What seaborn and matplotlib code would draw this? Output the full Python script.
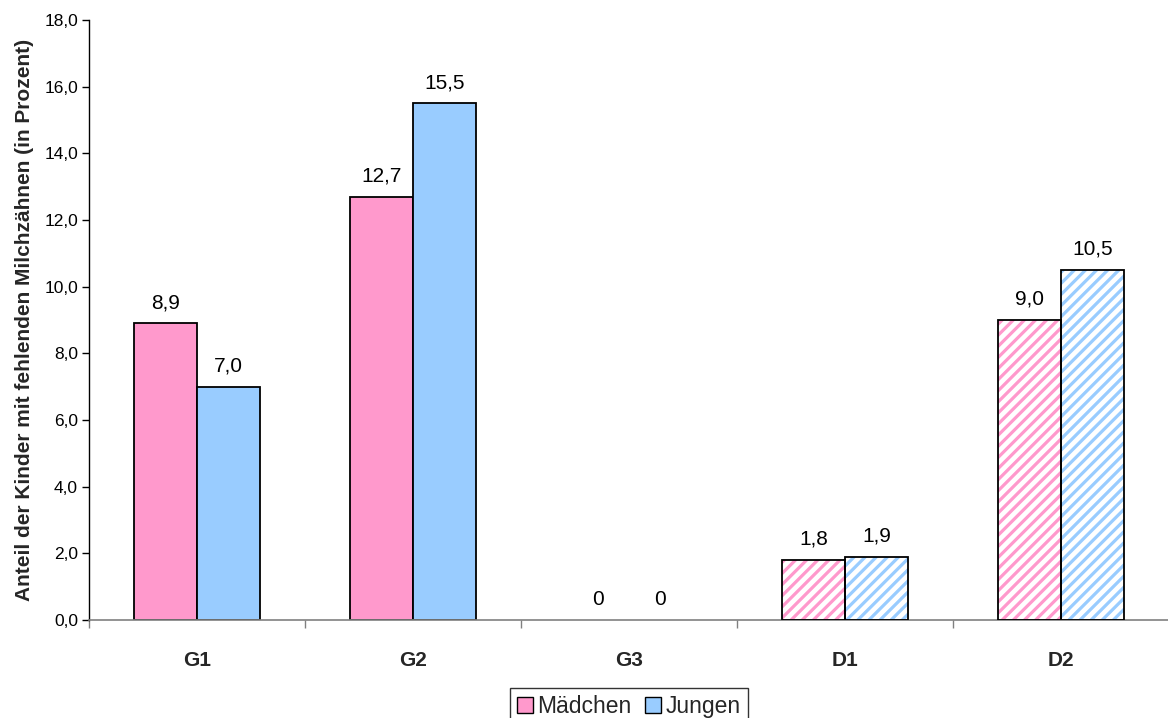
import numpy as np
import pandas as pd
import matplotlib
matplotlib.use("Agg")
import matplotlib.pyplot as plt
from matplotlib.patches import Patch, Rectangle
from matplotlib.ticker import FuncFormatter, MultipleLocator
import seaborn as sns

categories = ["G1", "G2", "G3", "D1", "D2"]
maedchen = [8.9, 12.7, 0.0, 1.8, 9.0]
jungen = [7.0, 15.5, 0.0, 1.9, 10.5]
groups = ["Mädchen", "Jungen"]
hatched_categories = ["D1", "D2"]

pink = "#FF99CC"
blue = "#99CCFF"

df = pd.DataFrame({
    "Kategorie": categories * 2,
    "Gruppe": [groups[0]] * len(categories) + [groups[1]] * len(categories),
    "Wert": maedchen + jungen,
})

sns.set_theme(style="white")
plt.rcParams["font.family"] = ["Liberation Sans", "DejaVu Sans"]
plt.rcParams["hatch.linewidth"] = 2.3

fig = plt.figure(figsize=(11.68, 7.18), dpi=100)
ax = fig.add_axes([0.0762, 0.1365, 0.9247, 0.8356])

sns.barplot(data=df, x="Kategorie", y="Wert", hue="Gruppe", order=categories,
            hue_order=groups, palette=[pink, blue], width=0.58, gap=0,
            edgecolor="black", linewidth=1.3, saturation=1, errorbar=None,
            legend=False, ax=ax)

def fmt(v):
    return "0" if v == 0 else f"{v:.1f}".replace(".", ",")

for container, color, vals in zip(ax.containers, [pink, blue], [maedchen, jungen]):
    for cat, patch, v in zip(categories, container.patches, vals):
        if v == 0:
            patch.set_linewidth(0)
        if cat in hatched_categories:
            patch.set_facecolor("white")
            patch.set_edgecolor(color)
            patch.set_hatch("///")
            patch.set_linewidth(0)
            ax.add_patch(Rectangle(patch.get_xy(), patch.get_width(), patch.get_height(),
                                   fill=False, edgecolor="black", linewidth=1.3, zorder=3))
    ax.bar_label(container, labels=[fmt(v) for v in vals], padding=8, fontsize=15,
                 color="black")

ax.set_xlim(-0.5, len(categories) - 0.5)
ax.set_ylim(0, 18)
ax.yaxis.set_major_locator(MultipleLocator(2))
ax.yaxis.set_major_formatter(FuncFormatter(lambda v, p: f"{v:.1f}".replace(".", ",")))
ax.tick_params(axis="y", which="major", direction="out", length=5, width=1, color="black",
               labelsize=12.5, labelcolor="black", left=True, pad=3)

ax.set_xticks(range(len(categories)))
ax.set_xticklabels(categories, fontsize=15, fontweight="bold")
ax.tick_params(axis="x", which="major", length=0, pad=22)
ax.set_xticks(np.arange(-0.5, len(categories)), minor=True)
ax.tick_params(axis="x", which="minor", direction="out", length=6, width=1, color="#808080",
               bottom=True)

ax.set_xlabel("")
ax.set_ylabel("Anteil der Kinder mit fehlenden Milchzähnen (in Prozent)", fontsize=15,
              fontweight="bold", labelpad=7)

for side in ["top", "right"]:
    ax.spines[side].set_visible(False)
ax.spines["left"].set_color("black")
ax.spines["left"].set_linewidth(1)
ax.spines["bottom"].set_color("#808080")
ax.spines["bottom"].set_linewidth(1.2)

handles = [Patch(facecolor=pink, edgecolor="black", linewidth=1, label=groups[0]),
           Patch(facecolor=blue, edgecolor="black", linewidth=1, label=groups[1])]
leg = fig.legend(handles=handles, loc="lower center", bbox_to_anchor=(0.5385, -0.016), ncol=2,
                 frameon=True, fancybox=False, edgecolor="black", fontsize=16.5,
                 handlelength=0.7, handleheight=0.7, handletextpad=0.2, columnspacing=0.6,
                 borderpad=0.3, borderaxespad=0.2)
leg.get_frame().set_linewidth(1)

fig.savefig("out.png", dpi=100, facecolor="white")
